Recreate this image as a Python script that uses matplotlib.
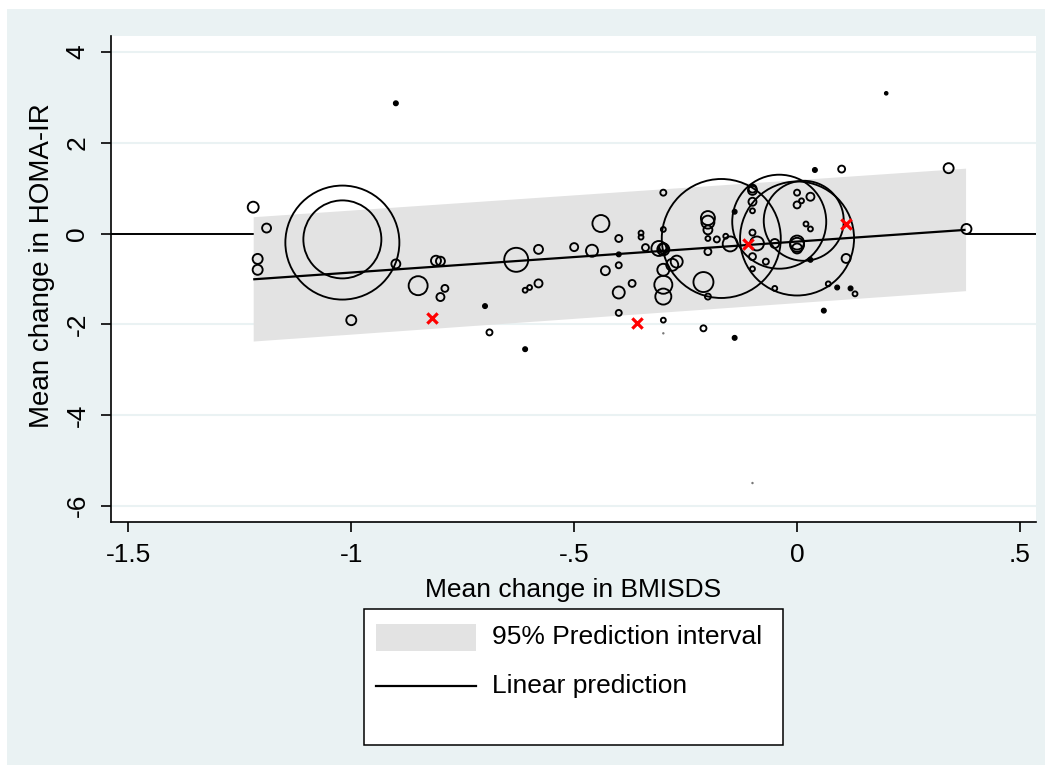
import matplotlib
matplotlib.use('Agg')
import matplotlib.pyplot as plt
import numpy as np
from matplotlib.patches import Rectangle
from matplotlib.lines import Line2D

plt.rcParams['font.family'] = ['Liberation Sans', 'DejaVu Sans']

# ---------------- data ----------------
bmisds = [-1.22, -1.19, -1.21, -1.21, -1.02, -1.02, -0.90, -0.81, -0.80, -0.85,
          -0.79, -0.80, -0.70, -1.00, -0.69, -0.63, -0.61, -0.60, -0.61, -0.58,
          -0.58, -0.50, -0.46, -0.44, -0.40, -0.40, -0.40, -0.43, -0.40, -0.37,
          -0.40, -0.35, -0.35, -0.34, -0.31, -0.30, -0.30, -0.30, -0.30, -0.30,
          -0.30, -0.30, -0.30, -0.30, -0.30, -0.28, -0.27, -0.17, -0.20, -0.20,
          -0.20, -0.20, -0.20, -0.20, -0.21, -0.18, -0.16, -0.15, -0.21, -0.14,
          -0.14, -0.10, -0.10, -0.10, -0.10, -0.10, -0.09, -0.10, -0.10, -0.07,
          -0.05, -0.05, -0.04, 0.00, 0.015, 0.00, 0.00, 0.01, 0.03, 0.02,
          0.03, 0.00, 0.00, 0.00, 0.03, 0.11, 0.07, 0.09, 0.12, 0.13,
          0.06, 0.04, 0.10, 0.34, 0.38, -0.90, 0.20, -0.10]
homa = [0.58, 0.12, -0.56, -0.80, -0.20, -0.13, -0.67, -0.60, -0.61, -1.15,
        -1.21, -1.40, -1.60, -1.91, -2.18, -0.58, -1.25, -1.19, -2.55, -0.35,
        -1.10, -0.30, -0.38, 0.22, -0.11, -0.46, -0.70, -0.82, -1.30, -1.10,
        -1.75, 0.01, -0.08, -0.31, -0.33, -0.33, -0.30, -0.35, 0.90, 0.09,
        -0.80, -1.13, -1.39, -1.91, -2.20, -0.69, -0.62, -0.11, 0.34, 0.25,
        0.08, -0.11, -0.40, -1.39, -1.07, -0.13, -0.06, -0.23, -2.09, -2.30,
        0.48, 0.99, 0.95, 0.70, 0.50, 0.02, -0.22, -0.51, -0.78, -0.62,
        -0.22, -1.21, 0.26, -0.11, 0.28, 0.90, 0.63, 0.72, 0.81, 0.21,
        0.10, -0.20, -0.25, -0.33, -0.58, -0.55, -1.11, -1.19, -1.21, -1.33,
        -1.70, 1.40, 1.42, 1.44, 0.10, 2.87, 3.09, -5.50]
weights = [30, 20, 25, 25, 3249, 1521, 20, 25, 20, 90,
           12, 16, 4, 25, 9, 144, 6, 6, 4, 20,
           16, 16, 36, 72, 12, 4, 9, 20, 36, 12,
           9, 6, 6, 12, 56, 25, 16, 36, 9, 6,
           36, 81, 64, 6, 1, 36, 36, 3540, 49, 42,
           20, 6, 12, 9, 100, 9, 6, 56, 9, 4,
           4, 16, 20, 16, 6, 9, 49, 12, 6, 9,
           20, 6, 2209, 3249, 1600, 9, 12, 6, 16, 6,
           6, 49, 49, 25, 4, 20, 6, 4, 4, 6,
           4, 4, 12, 25, 25, 4, 2, 1]

excluded_x = [-0.82, -0.36, -0.11, 0.11]
excluded_y = [-1.87, -1.97, -0.24, 0.22]

pred_x = [-1.22, 0.378]
pred_y = [-1.01, 0.08]
pi_upper = [0.37, 1.44]
pi_lower = [-2.37, -1.26]

xticks = [-1.5, -1.0, -0.5, 0.0, 0.5]
xtick_labels = ['-1.5', '-1', '-.5', '0', '.5']
yticks = [-6, -4, -2, 0, 2, 4]
ytick_labels = ['-6', '-4', '-2', '0', '2', '4']

# ---------------- figure ----------------
W, H = 1052, 772
BG = '#EAF2F3'
BAND = '#E3E3E3'
FS = 19
fig = plt.figure(figsize=(W / 100, H / 100), dpi=100)
fig.patch.set_facecolor('white')
fig.patches.append(Rectangle((7 / W, 1 - 765 / H), (1045 - 7) / W, (765 - 9) / H,
                             transform=fig.transFigure, facecolor=BG,
                             edgecolor='none', zorder=-5))

ax = fig.add_axes([111 / W, 1 - 521.7 / H, (1036 - 111) / W, (521.7 - 36) / H])
ax.set_zorder(1)
ax.set_facecolor('white')
ax.set_xlim(-1.539, 0.536)
ax.set_ylim(-6.352, 4.353)

for yt in yticks:
    ax.axhline(yt, color=BG, lw=1.5, zorder=0.5)
ax.axhline(0, color='black', lw=1.4, zorder=0.8)

ax.fill_between(pred_x, pi_lower, pi_upper, color=BAND, lw=0, zorder=1)
ax.plot(pred_x, pred_y, color='black', lw=1.6, zorder=2, solid_capstyle='butt')

w = np.array(weights, dtype=float)
xs = np.array(bmisds)
ys = np.array(homa)
sizes = (1.44 ** 2) * w
small = w <= 4
tiny = w <= 1
big = ~small
ax.scatter(xs[big], ys[big], s=sizes[big],
           facecolors='none', edgecolors='black', linewidths=1.35, zorder=3)
mid = small & ~tiny
ax.scatter(xs[mid], ys[mid], s=sizes[mid] * 1.4,
           facecolors='black', edgecolors='black', linewidths=0.9, zorder=3)
ax.scatter(xs[tiny], ys[tiny], s=3,
           facecolors='#777777', edgecolors='none', zorder=3)
ax.scatter(excluded_x, excluded_y, marker='x', s=55, color='red',
           linewidths=2.3, zorder=4)

for side in ['top', 'right']:
    ax.spines[side].set_visible(False)
for side in ['left', 'bottom']:
    ax.spines[side].set_linewidth(1.2)
    ax.spines[side].set_color('black')

ax.set_xticks(xticks)
ax.set_xticklabels(xtick_labels, fontsize=FS)
ax.set_yticks(yticks)
ax.set_yticklabels(ytick_labels, fontsize=FS, rotation=90, va='center')
ax.tick_params(axis='both', direction='out', length=7.5, width=1.2,
               color='black', pad=8)

ax.set_xlabel('Mean change in BMISDS', fontsize=FS)
ax.set_ylabel('Mean change in HOMA-IR', fontsize=20)
ax.xaxis.set_label_coords(0.5, (521.7 - 578) / 485.7)
ax.yaxis.set_label_coords((55 - 111) / 925, (521.7 - 266) / 485.7)

# ---------------- legend ----------------
def fx(px):
    return px / W

def fy(py):
    return 1 - py / H

fig.patches.append(Rectangle((fx(364), fy(745)), (783 - 364) / W, (745 - 609) / H,
                             transform=fig.transFigure, facecolor='white',
                             edgecolor='black', lw=1.1, zorder=5))
fig.patches.append(Rectangle((fx(376), fy(651)), (476 - 376) / W, (651 - 624) / H,
                             transform=fig.transFigure, facecolor=BAND,
                             edgecolor='none', zorder=6))
fig.lines.append(Line2D([fx(376), fx(476)], [fy(686), fy(686)],
                        transform=fig.transFigure, color='black', lw=1.6, zorder=6))
fig.text(fx(492), fy(637), '95% Prediction interval', fontsize=FS,
         va='center', ha='left', zorder=7)
fig.text(fx(492), fy(686), 'Linear prediction', fontsize=FS,
         va='center', ha='left', zorder=7)

fig.savefig('out.png', dpi=100, facecolor=fig.get_facecolor())
